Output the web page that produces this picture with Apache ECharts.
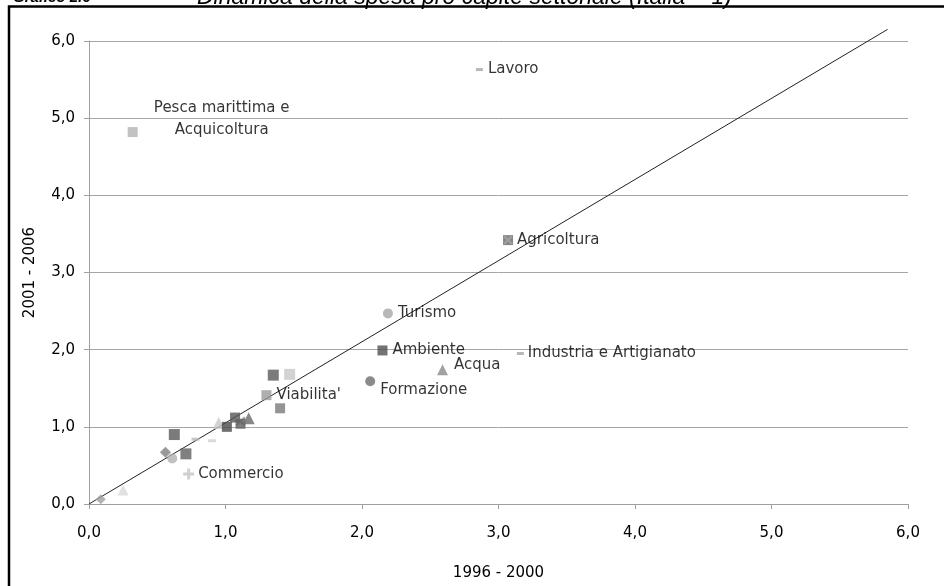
<!DOCTYPE html>
<html>
<head>
<meta charset="utf-8">
<script src="https://cdn.jsdelivr.net/npm/echarts@6/dist/echarts.min.js"></script>
<style>
  html, body { margin: 0; padding: 0; background: #fff; }
  #chart { width: 944px; height: 586px; }
</style>
</head>
<body>
<div id="chart"></div>
<script>
// Spesa pro capite settoriale, indice Italia = 1
const pointNames = [
  'Lavoro', 'Pesca marittima e\nAcquicoltura', 'Agricoltura', 'Turismo', 'Ambiente',
  'Industria e Artigianato', 'Acqua', 'Formazione', "Viabilita'", 'Commercio',
  '', '', '', '', '', '', '', '', '', '', '', '', '', '', '', '', ''
];
// periodo 1996 - 2000
const period1996 = [
  2.86, 0.32, 3.07, 2.19, 2.15, 3.16, 2.59, 2.06, 1.30, 0.73,
  1.35, 1.47, 1.40, 0.625, 0.71, 0.56, 0.61, 0.78, 0.90, 0.95, 1.01, 1.07, 1.11, 1.11, 1.17, 0.086, 0.25
];
// periodo 2001 - 2006
const period2001 = [
  5.63, 4.82, 3.42, 2.47, 1.99, 1.95, 1.74, 1.59, 1.41, 0.39,
  1.67, 1.68, 1.24, 0.90, 0.65, 0.67, 0.59, 0.84, 0.82, 1.05, 1.00, 1.12, 1.07, 1.04, 1.11, 0.06, 0.18
];
// retta di riferimento
const trendX = [0, 5.85];
const trendY = [0, 6.15];

// marker look for each point (same order as the values)
const DASH = 'rect';
const PLUS = 'path://M4,0h3v4h4v3h-4v4h-3v-4h-4v-3h4z';
const XMARK = 'path://M0,1.5L1.5,0L5,3.5L8.5,0L10,1.5L6.5,5L10,8.5L8.5,10L5,6.5L1.5,10L0,8.5L3.5,5Z';
const markerLook = [
  [DASH, [7, 3], '#a6a6a6'],
  ['rect', 10, '#b3b3b3'],
  ['rect', 10, '#6a6a6a'],
  ['circle', 10, '#a6a6a6'],
  ['rect', 10, '#505050'],
  [DASH, [7, 3], '#a6a6a6'],
  ['triangle', 11, '#8a8a8a'],
  ['circle', 10, '#6e6e6e'],
  ['rect', 10, '#9a9a9a'],
  [PLUS, 11, '#c4c4c4'],
  ['rect', 11, '#5a5a5a'],
  ['rect', 11, '#c8c8c8'],
  ['rect', 10, '#7a7a7a'],
  ['rect', 11, '#5a5a5a'],
  ['rect', 11, '#606060'],
  ['diamond', 11, '#808080'],
  ['circle', 10, '#b0b0b0'],
  [DASH, [8, 3], '#b8b8b8'],
  [DASH, [8, 3], '#d0d0d0'],
  ['triangle', 12, '#c8c8c8'],
  ['rect', 10, '#4a4a4a'],
  ['rect', 10, '#555555'],
  [XMARK, 10, '#8a8a8a'],
  ['rect', 10, '#606060'],
  ['triangle', 12, '#6a6a6a'],
  ['diamond', 10, '#a0a0a0'],
  ['triangle', 11, '#d8d8d8']
];

// label placement per labelled point
const labelPlace = {
  0: { position: 'right', distance: 5 },
  1: { position: [94, -8], align: 'center', verticalAlign: 'middle', lineHeight: 22 },
  2: { position: 'right', distance: 4 },
  3: { position: 'right', distance: 5 },
  4: { position: 'right', distance: 5 },
  5: { position: 'right', distance: 4 },
  6: { position: 'right', distance: 6, offset: [0, -5] },
  7: { position: 'right', distance: 5, offset: [0, 9] },
  8: { position: 'right', distance: 5 },
  9: { position: 'right', distance: 4 }
};

const fmt = v => v.toFixed(1).replace('.', ',');
const FONT = 'DejaVu Sans';

const points = period1996.map((x, i) => {
  const look = markerLook[i];
  const item = {
    value: [x, period2001[i]],
    name: pointNames[i],
    symbol: look[0],
    symbolSize: look[1],
    itemStyle: { color: look[2] }
  };
  if (pointNames[i]) {
    item.label = Object.assign({
      show: true,
      formatter: pointNames[i],
      color: '#000',
      fontFamily: FONT,
      fontSize: 15
    }, labelPlace[i] || {});
  }
  return item;
});

// cross drawn over the Agricoltura square
const agriIdx = 2;

const chart = echarts.init(document.getElementById('chart'), null, { renderer: 'canvas' });
chart.setOption({
  animation: false,
  backgroundColor: '#fff',
  graphic: [
    {
      type: 'rect',
      shape: { x: 9, y: 6.5, width: 1000, height: 1000 },
      style: { fill: 'none', stroke: '#000', lineWidth: 2.5 },
      silent: true
    },
    {
      type: 'text', left: 13, top: -10,
      style: { text: 'Grafico 2.6', font: 'bold italic 15px "Liberation Sans"', fill: '#000' }
    },
    {
      type: 'text', left: 197, top: -14,
      style: { text: 'Dinamica della spesa pro capite settoriale (Italia = 1)', font: 'italic 23px "Liberation Sans"', fill: '#000' }
    }
  ],
  grid: { left: 89, right: 36, top: 41, bottom: 82 },
  xAxis: {
    type: 'value', min: 0, max: 6, interval: 1,
    name: '1996 - 2000', nameLocation: 'middle', nameGap: 62,
    nameTextStyle: { fontFamily: FONT, fontSize: 15, color: '#000' },
    axisLine: { show: true, onZero: false, lineStyle: { color: '#a0a0a0', width: 1 } },
    axisTick: { show: true, length: 5, lineStyle: { color: '#a0a0a0' } },
    axisLabel: { formatter: fmt, margin: 22, fontFamily: FONT, fontSize: 15, color: '#000' },
    splitLine: { show: false }
  },
  yAxis: {
    type: 'value', min: 0, max: 6, interval: 1,
    name: '2001 - 2006', nameLocation: 'middle', nameGap: 51,
    nameTextStyle: { fontFamily: FONT, fontSize: 15, color: '#000' },
    axisLine: { show: true, onZero: false, lineStyle: { color: '#a0a0a0', width: 1 } },
    axisTick: { show: true, length: 5, lineStyle: { color: '#a0a0a0' } },
    axisLabel: { formatter: fmt, margin: 14, fontFamily: FONT, fontSize: 15, color: '#000' },
    splitLine: { show: true, lineStyle: { color: '#a6a6a6', width: 1 } }
  },
  series: [
    {
      type: 'line',
      data: trendX.map((x, i) => [x, trendY[i]]),
      clip: false,
      symbol: 'none',
      lineStyle: { color: '#222', width: 1 },
      z: 1,
      silent: true
    },
    {
      type: 'scatter',
      data: points,
      z: 3,
      silent: true
    },
    {
      type: 'scatter',
      data: [[period1996[agriIdx], period2001[agriIdx]]],
      symbol: XMARK,
      symbolSize: 9,
      itemStyle: { color: '#a8a8a8' },
      z: 4,
      silent: true
    }
  ]
});
</script>
</body>
</html>
